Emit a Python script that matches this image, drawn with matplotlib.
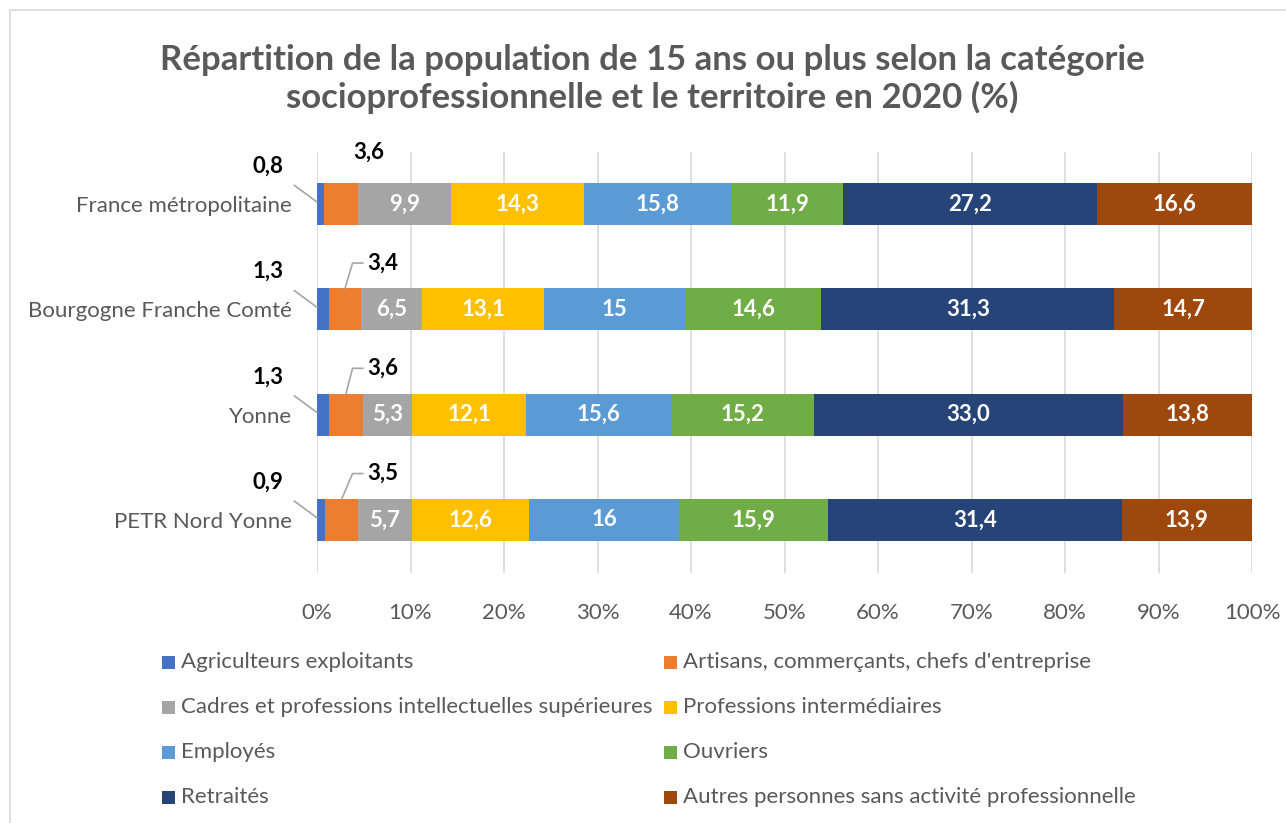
import matplotlib
matplotlib.use("Agg")
import matplotlib.pyplot as plt
from matplotlib.patches import Rectangle
import numpy as np

plt.rcParams['font.family'] = ['Lato', 'DejaVu Sans']

territoires = ["France métropolitaine", "Bourgogne Franche Comté", "Yonne", "PETR Nord Yonne"]
categories = ["Agriculteurs exploitants", "Artisans, commerçants, chefs d'entreprise",
              "Cadres et professions intellectuelles supérieures", "Professions intermédiaires",
              "Employés", "Ouvriers", "Retraités", "Autres personnes sans activité professionnelle"]
colors = ["#4472C4", "#ED7D31", "#A5A5A5", "#FFC000", "#5B9BD5", "#70AD47", "#264478", "#9E480E"]

agriculteurs = [0.8, 1.3, 1.3, 0.9]
artisans = [3.6, 3.4, 3.6, 3.5]
cadres = [9.9, 6.5, 5.3, 5.7]
prof_inter = [14.3, 13.1, 12.1, 12.6]
employes = [15.8, 15.0, 15.6, 16.0]
ouvriers = [11.9, 14.6, 15.2, 15.9]
retraites = [27.2, 31.3, 33.0, 31.4]
autres = [16.6, 14.7, 13.8, 13.9]
series = [agriculteurs, artisans, cadres, prof_inter, employes, ouvriers, retraites, autres]

labels_txt = [
    ["0,8", "1,3", "1,3", "0,9"],
    ["3,6", "3,4", "3,6", "3,5"],
    ["9,9", "6,5", "5,3", "5,7"],
    ["14,3", "13,1", "12,1", "12,6"],
    ["15,8", "15", "15,6", "16"],
    ["11,9", "14,6", "15,2", "15,9"],
    ["27,2", "31,3", "33,0", "31,4"],
    ["16,6", "14,7", "13,8", "13,9"],
]
ticks = ["0%", "10%", "20%", "30%", "40%", "50%", "60%", "70%", "80%", "90%", "100%"]

W, H = 1286, 823
fig = plt.figure(figsize=(W / 100, H / 100), dpi=100)
ax = fig.add_axes([317 / W, 1 - 572.5 / H, (1252 - 317) / W, (572.5 - 151.5) / H])

data = np.array(series)
totals = data.sum(axis=0)
pct = data / totals * 100
y = np.arange(len(territoires))
left = np.zeros(len(territoires))
for i, (vals, c) in enumerate(zip(pct, colors)):
    ax.barh(y, vals, left=left, height=0.4, color=c, zorder=3)
    for j in range(len(territoires)):
        if i >= 2:
            ax.text(left[j] + vals[j] / 2, y[j], labels_txt[i][j], ha="center", va="center",
                    color="white", fontsize=16, fontweight="bold", zorder=4)
    left = left + vals

grey = "#595959"
lc = "#A6A6A6"
# outside labels for small segments
for j in range(len(territoires)):
    ax.annotate(labels_txt[0][j], xy=(0, y[j] - 0.02), xytext=(-5.2, y[j] - 0.36),
                ha="center", va="center", fontsize=16, fontweight="bold", color="black",
                arrowprops=dict(arrowstyle="-", color=lc, lw=1.2, shrinkA=7, shrinkB=0), zorder=5)
    a0 = pct[0][j]
    a1 = pct[1][j]
    if j == 0:
        ax.text(5.5, y[j] - 0.49, labels_txt[1][j], ha="center", va="center",
                fontsize=16, fontweight="bold", color="black")
    else:
        ly = y[j] - 0.44
        lx = 7.0
        ax.text(lx, ly, labels_txt[1][j], ha="center", va="center",
                fontsize=16, fontweight="bold", color="black")
        xs = [lx - 2.1, lx - 3.2, a0 + a1 / 2]
        ys = [ly, ly, y[j] - 0.2]
        ax.plot(xs, ys, color=lc, lw=1.2, zorder=5, clip_on=False)

ax.set_xlim(0, 100)
ax.set_ylim(3.5, -0.5)
ax.set_xticks(np.arange(0, 101, 10))
ax.set_xticklabels(ticks)
ax.set_yticks(y)
ax.set_yticklabels(territoires)
ax.tick_params(axis="both", length=0, labelsize=16, labelcolor=grey)
ax.tick_params(axis="x", pad=22)
ax.tick_params(axis="y", pad=18)
ax.grid(axis="x", color="#D9D9D9", lw=1.2, zorder=0)
for s in ax.spines.values():
    s.set_visible(False)

fig.text(652 / W, 1 - 79 / H,
         "Répartition de la population de 15 ans ou plus selon la catégorie\nsocioprofessionnelle et le territoire en 2020 (%)",
         ha="center", va="center", fontsize=25, fontweight="bold", color=grey, linespacing=1.2)

# legend
col_x = [162, 664]
row_y = [662, 707, 752, 797]
for k, (name, c) in enumerate(zip(categories, colors)):
    r, cidx = divmod(k, 2)
    mx = col_x[cidx]
    my = row_y[r]
    fig.patches.append(Rectangle((mx / W, 1 - (my + 6.5) / H), 13 / W, 13 / H,
                                 transform=fig.transFigure, facecolor=c, edgecolor="none"))
    fig.text((mx + 19) / W, 1 - my / H, name, ha="left", va="center", fontsize=16, color=grey)

# chart border
fig.patches.append(Rectangle((10 / W, -0.05), 1.1, 1 - 10 / H + 0.05, transform=fig.transFigure,
                             facecolor="none", edgecolor="#D9D9D9", lw=1.2))

fig.savefig("out.png", dpi=100)
